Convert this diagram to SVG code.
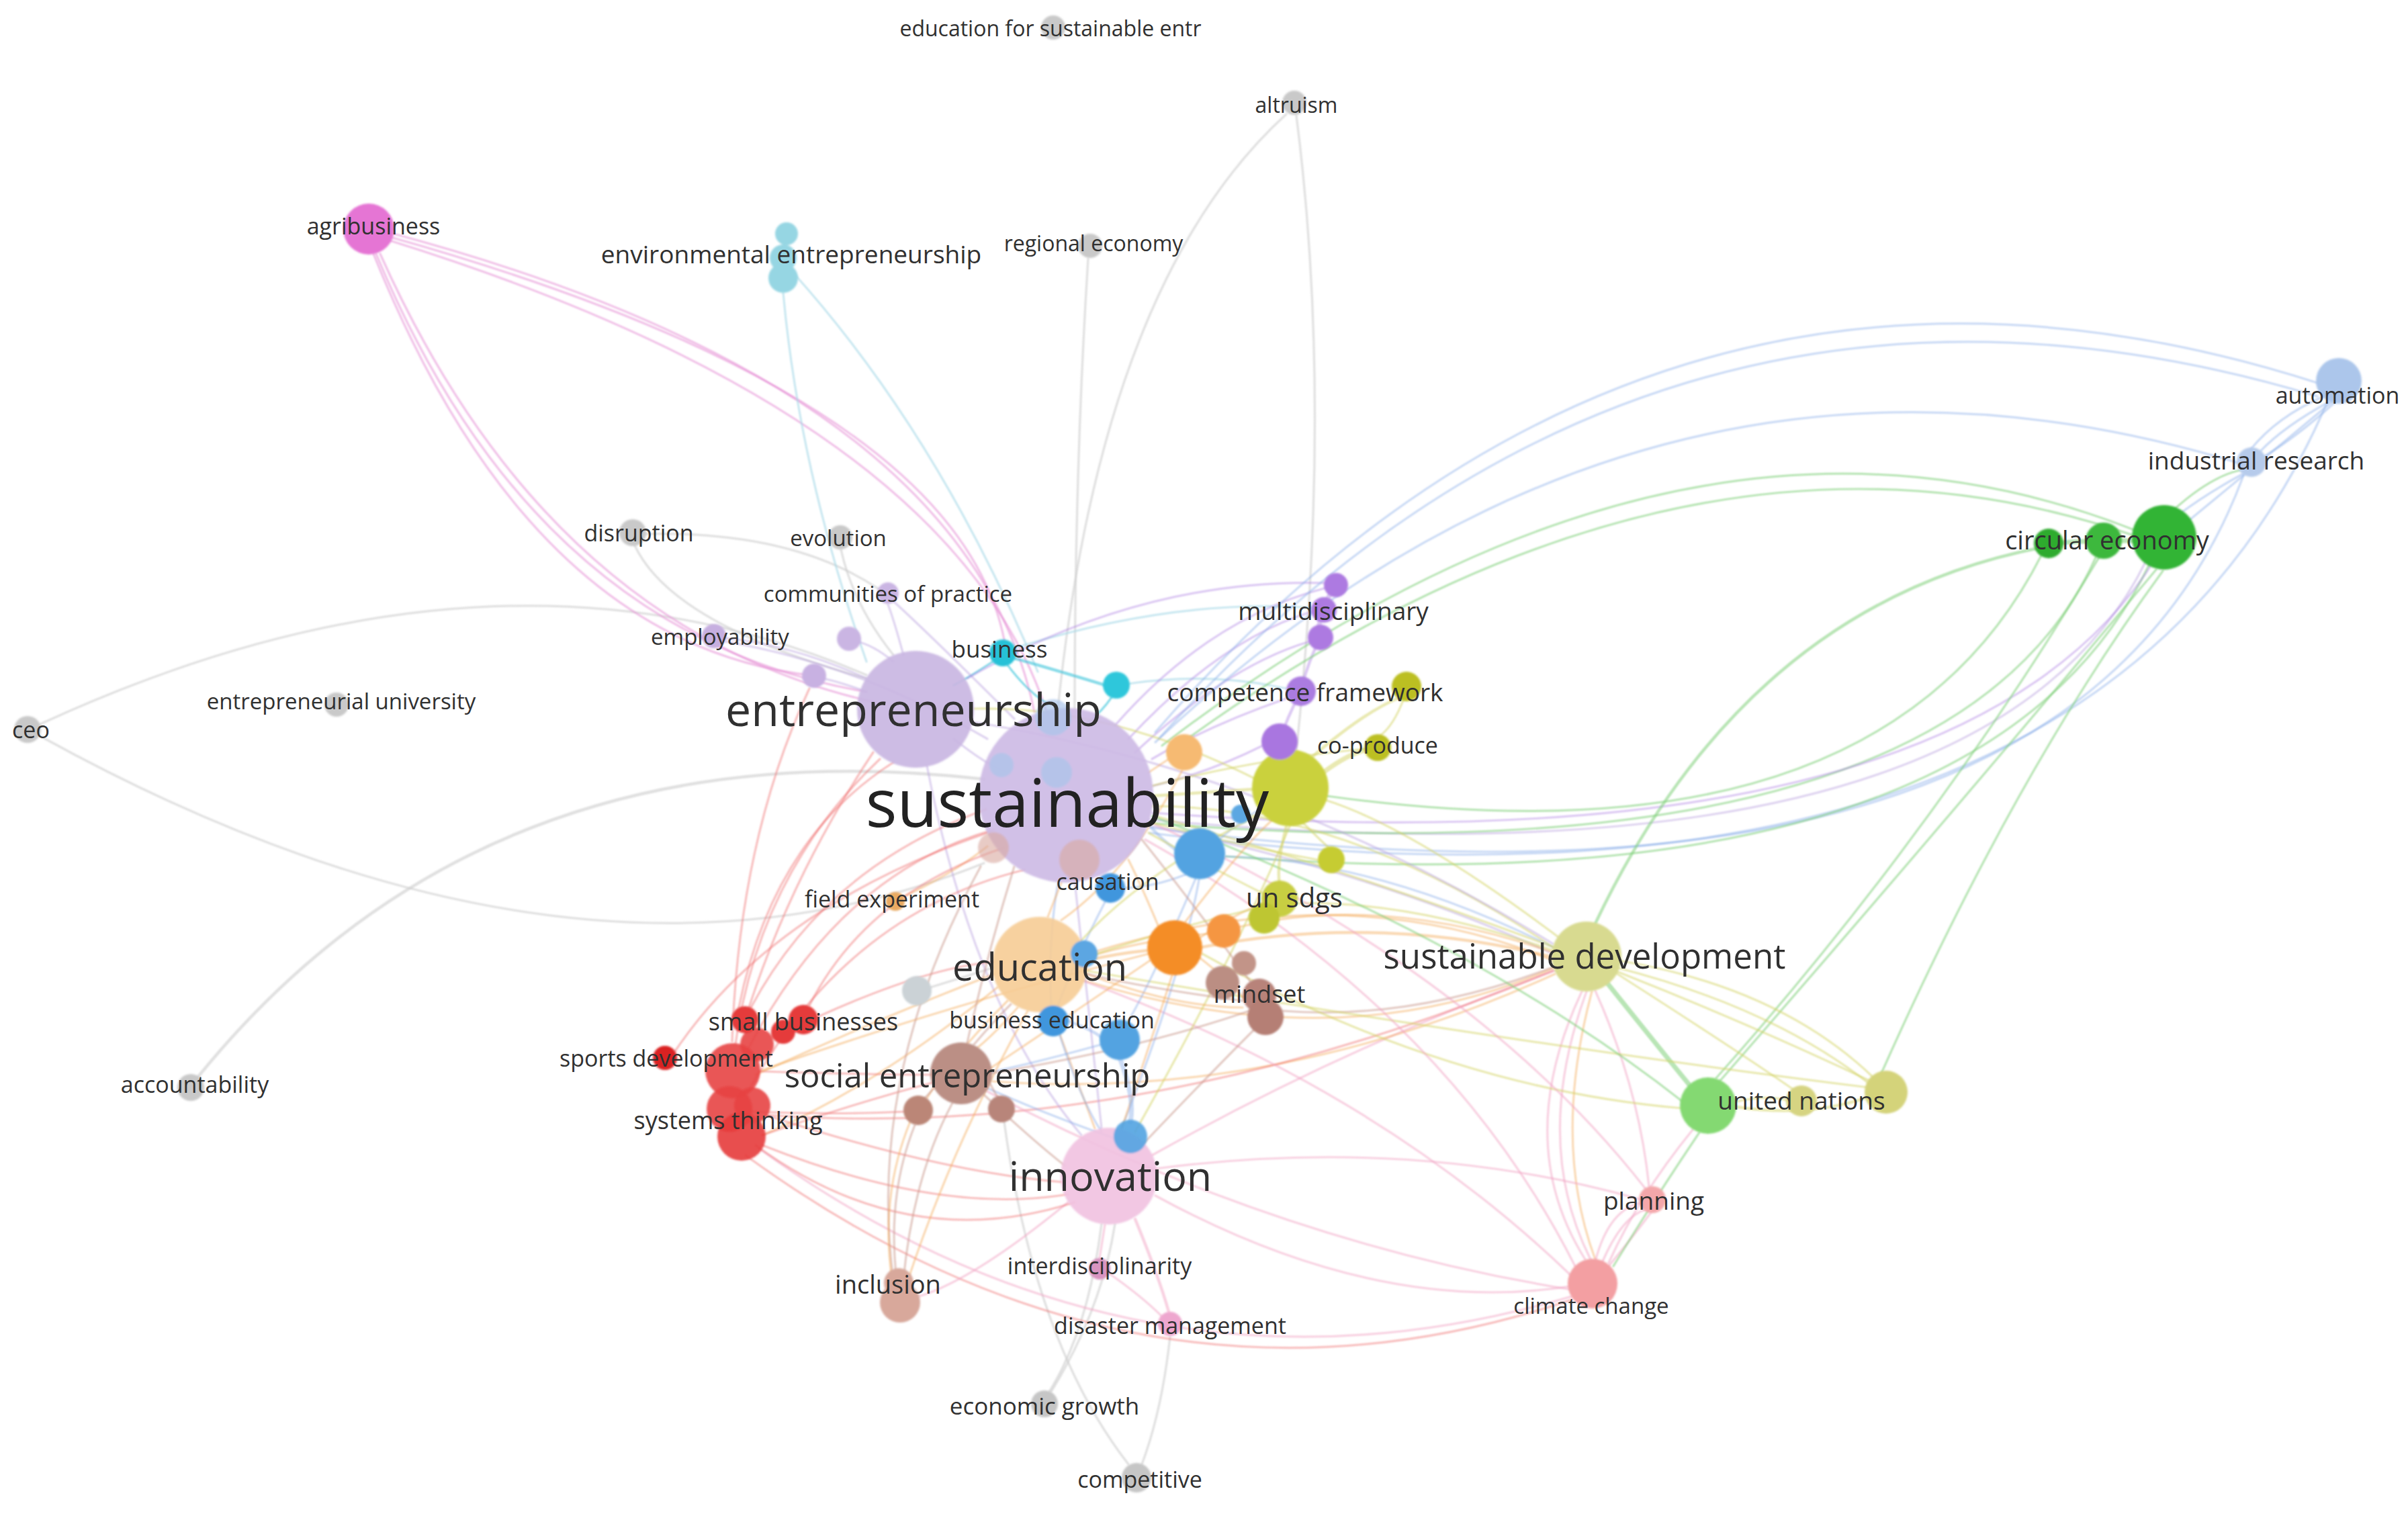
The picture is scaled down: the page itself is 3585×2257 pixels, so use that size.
<svg xmlns="http://www.w3.org/2000/svg" width="3585" height="2257" viewBox="0 0 3585 2257">
<defs>
<filter id="soft" x="-5%" y="-5%" width="110%" height="110%"><feGaussianBlur stdDeviation="1.8"/></filter>
<filter id="softe" x="-5%" y="-5%" width="110%" height="110%"><feGaussianBlur stdDeviation="1"/></filter>
</defs>
<style>
.e path{fill:none;stroke-linecap:round;stroke-width:3.2}
.pu{stroke:#b9a0dd;stroke-opacity:.45}
.vp{stroke:#a878e0;stroke-opacity:.4}
.pk{stroke:#e690d6;stroke-opacity:.55}
.pi{stroke:#f2a4c4;stroke-opacity:.5}
.cy{stroke:#3cc4da;stroke-opacity:.6}
.lc{stroke:#a6d8e8;stroke-opacity:.6}
.gr{stroke:#cccccc;stroke-opacity:.6}
.rd{stroke:#ee6a6a;stroke-opacity:.42}
.or{stroke:#f5ab5a;stroke-opacity:.45}
.ye{stroke:#d4d466;stroke-opacity:.5}
.gn{stroke:#7fcf7a;stroke-opacity:.55}
.bl{stroke:#8cb0e8;stroke-opacity:.45}
.br{stroke:#c99a8e;stroke-opacity:.5}
.w4{stroke-width:4.5 !important}
.w6{stroke-width:7 !important}
.n circle{stroke:none}
.lbl{font-family:"Open Sans","DejaVu Sans",sans-serif;fill:#303030;text-anchor:middle;dominant-baseline:central}
</style>
<rect width="3585" height="2257" fill="#ffffff"/>
<g id="connectors" class="e" filter="url(#softe)">
<path class="gr" d="M60,1078 Q735,767 1290,1005"/>
<path class="gr" d="M60,1096 Q850,1532 1465,1285"/>
<path class="gr w4" d="M295,1603 Q723,1075 1465,1160"/>
<path class="gr" d="M1915,170 Q1640,420 1575,1055"/>
<path class="gr" d="M1930,172 Q1985,600 1930,1118"/>
<path class="gr" d="M1620,385 Q1600,700 1600,1055"/>
<path class="gr" d="M945,812 Q1000,930 1290,1010"/>
<path class="gr" d="M960,795 Q1180,790 1310,878"/>
<path class="gr" d="M1252,818 Q1270,900 1330,975"/>
<path class="gr" d="M1640,1822 Q1620,1980 1562,2072"/>
<path class="gr" d="M1495,1670 Q1540,2000 1680,2180"/>
<path class="gr" d="M1742,1990 Q1730,2100 1700,2180"/>
<path class="gr" d="M1565,2072 Q1640,1950 1660,1822"/>
<path class="gr" d="M1385,1470 Q1450,1450 1480,1440"/>
<path class="pk" d="M575,345 Q1440,575 1540,1060"/>
<path class="pk" d="M578,352 Q1460,600 1500,985"/>
<path class="pk" d="M580,358 Q1420,620 1560,1065"/>
<path class="pk" d="M560,378 Q795,945 1290,1030"/>
<path class="pk" d="M566,378 Q815,935 1300,1045"/>
<path class="pk" d="M556,378 Q790,960 1212,1006"/>
<path class="lc" d="M1180,405 Q1400,650 1545,1000"/>
<path class="lc" d="M1166,436 Q1190,700 1290,985"/>
<path class="cy w4" d="M1510,980 Q1580,1000 1645,1020"/>
<path class="cy" d="M1500,990 Q1530,1030 1560,1048"/>
<path class="cy" d="M1478,985 Q1440,1010 1420,1020"/>
<path class="cy" d="M1655,1038 Q1640,1060 1620,1075"/>
<path class="lc" d="M1680,1018 Q1800,1000 1915,1025"/>
<path class="lc" d="M1510,965 Q1750,890 1955,905"/>
<path class="pu" d="M1420,1100 Q1470,1140 1500,1150"/>
<path class="pu" d="M1330,985 Q1300,960 1275,955"/>
<path class="pu" d="M1290,1030 Q1250,1015 1225,1010"/>
<path class="pu" d="M1290,1010 Q1180,960 1080,950"/>
<path class="pu" d="M1470,1100 Q1280,990 1080,955"/>
<path class="pu" d="M1345,975 Q1330,920 1322,900"/>
<path class="pu" d="M1510,1070 Q1390,950 1330,895"/>
<path class="vp" d="M1660,1080 Q1800,920 1975,875"/>
<path class="vp" d="M1680,1100 Q1820,950 1955,910"/>
<path class="vp" d="M1690,1120 Q1830,990 1950,955"/>
<path class="vp w6" d="M1989,871 Q1975,890 1971,908"/>
<path class="vp w6" d="M1971,908 Q1960,930 1966,949"/>
<path class="vp w4" d="M1966,949 Q1945,990 1937,1029"/>
<path class="vp w4" d="M1937,1029 Q1915,1070 1905,1104"/>
<path class="vp" d="M1915,1040 Q1800,1080 1715,1130"/>
<path class="vp" d="M1880,1110 Q1800,1150 1717,1170"/>
<path class="vp" d="M1440,1010 Q1700,860 1975,868"/>
<path class="bl" d="M1720,1090 Q2450,250 3450,570"/>
<path class="bl" d="M1725,1100 Q2450,290 3450,590"/>
<path class="bl" d="M1720,1105 Q2450,420 3335,690"/>
<path class="gn" d="M1730,1110 Q2500,520 3180,790"/>
<path class="gn" d="M1740,1120 Q2500,560 3185,800"/>
<path class="pu" d="M1710,1220 Q2950,1335 3195,835"/>
<path class="gn" d="M1710,1225 Q2900,1320 3120,830"/>
<path class="bl" d="M1712,1232 Q3080,1410 3340,708"/>
<path class="bl" d="M1712,1240 Q3113,1420 3465,598"/>
<path class="gn" d="M1825,1275 Q2950,1360 3200,840"/>
<path class="gn" d="M1975,1185 Q2800,1300 3040,825"/>
<path class="vp" d="M1715,1210 Q2920,1300 3210,830"/>
<path class="bl" d="M3468,598 Q3400,635 3365,672"/>
<path class="bl" d="M3475,600 Q3420,650 3370,680"/>
<path class="bl" d="M3460,590 Q3390,620 3350,670"/>
<path class="bl" d="M3340,705 Q3285,735 3245,765"/>
<path class="bl" d="M3472,598 Q3350,700 3255,778"/>
<path class="gn w6" d="M3200,805 Q3160,805 3132,805"/>
<path class="gn w6" d="M3132,805 Q3090,806 3050,809"/>
<path class="gn" d="M3235,760 Q3290,710 3335,700"/>
<path class="gn w4" d="M2375,1375 Q2600,900 3040,815"/>
<path class="gn w6" d="M2390,1460 Q2470,1560 2515,1615"/>
<path class="gn" d="M2560,1610 Q2900,1220 3210,848"/>
<path class="gn" d="M2555,1605 Q2880,1240 3125,830"/>
<path class="gn" d="M2800,1600 Q3000,1150 3220,850"/>
<path class="ye" d="M2410,1430 Q2650,1470 2790,1605"/>
<path class="ye" d="M2405,1440 Q2640,1500 2785,1615"/>
<path class="ye" d="M2400,1445 Q2580,1560 2670,1622"/>
<path class="ye w4" d="M2585,1648 Q2700,1665 2790,1630"/>
<path class="ye" d="M2585,1640 Q2630,1630 2660,1638"/>
<path class="ye" d="M2320,1395 Q2100,1230 1970,1190"/>
<path class="ye" d="M2312,1410 Q2000,1200 1715,1200"/>
<path class="pu" d="M2312,1420 Q2050,1300 1716,1230"/>
<path class="or w4" d="M2312,1425 Q2050,1360 1790,1410"/>
<path class="or" d="M2312,1418 Q2060,1330 1845,1380"/>
<path class="or" d="M2312,1430 Q2000,1300 1620,1420"/>
<path class="or" d="M2315,1440 Q2000,1580 1615,1460"/>
<path class="br" d="M2312,1440 Q2100,1520 1910,1505"/>
<path class="ye" d="M2312,1415 Q2100,1340 1930,1345"/>
<path class="pi" d="M2315,1445 Q2000,1560 1715,1720"/>
<path class="or" d="M2315,1450 Q1900,1640 1478,1610"/>
<path class="pi" d="M2355,1476 Q2250,1700 2360,1875"/>
<path class="pi" d="M2362,1476 Q2280,1700 2368,1875"/>
<path class="or" d="M2370,1476 Q2310,1700 2375,1875"/>
<path class="pi" d="M2375,1475 Q2440,1620 2455,1766"/>
<path class="rd" d="M2312,1445 Q1700,1700 1140,1660"/>
<path class="bl" d="M2312,1410 Q2050,1280 1825,1275"/>
<path class="pu" d="M2312,1405 Q1900,1150 1450,1075"/>
<path class="ye" d="M2505,1650 Q2150,1620 1790,1420"/>
<path class="ye" d="M2790,1612 Q2300,1380 1720,1215"/>
<path class="ye" d="M2790,1620 Q2300,1560 1615,1445"/>
<path class="gn" d="M2505,1640 Q2200,1400 1715,1215"/>
<path class="pi" d="M2385,1880 Q2415,1810 2452,1800"/>
<path class="pi" d="M2395,1885 Q2440,1830 2458,1805"/>
<path class="pi" d="M2375,1878 Q2395,1800 2445,1790"/>
<path class="pi" d="M2520,1682 Q2440,1780 2395,1880"/>
<path class="gn" d="M2530,1686 Q2460,1790 2402,1885"/>
<path class="pi" d="M2338,1915 Q2050,1960 1720,1780"/>
<path class="pi" d="M2340,1930 Q1700,2120 1130,1710"/>
<path class="rd" d="M2340,1935 Q1700,2150 1110,1720"/>
<path class="pi" d="M2345,1885 Q2150,1500 1705,1250"/>
<path class="pi" d="M2340,1900 Q2050,1620 1612,1460"/>
<path class="pi" d="M2440,1785 Q2100,1690 1720,1740"/>
<path class="pi" d="M2450,1770 Q2200,1450 1715,1225"/>
<path class="pi" d="M2340,1920 Q1900,1850 1470,1625"/>
<path class="pi" d="M1645,1823 Q1640,1855 1637,1873"/>
<path class="pi w4" d="M1690,1815 Q1725,1900 1740,1953"/>
<path class="pi" d="M1650,1895 Q1700,1930 1730,1960"/>
<path class="pi" d="M1590,1790 Q1450,1905 1368,1930"/>
<path class="pu" d="M1600,1312 Q1620,1500 1640,1680"/>
<path class="pu" d="M1380,1140 Q1450,1500 1610,1690"/>
<path class="or" d="M1565,1505 Q1600,1600 1630,1680"/>
<path class="br" d="M1465,1630 Q1540,1700 1585,1735"/>
<path class="ye" d="M1690,1685 Q1850,1400 1920,1230"/>
<path class="bl" d="M1670,1680 Q1760,1450 1785,1310"/>
<path class="or" d="M1670,1680 Q1720,1530 1745,1452"/>
<path class="br" d="M1700,1705 Q1800,1600 1870,1530"/>
<path class="bl w6" d="M1667,1575 Q1690,1635 1683,1670"/>
<path class="bl w4" d="M1590,1520 Q1630,1535 1640,1545"/>
<path class="bl" d="M1578,1542 Q1610,1640 1640,1685"/>
<path class="bl w4" d="M1750,1265 Q1730,1250 1712,1230"/>
<path class="bl" d="M1815,1250 Q1850,1220 1875,1205"/>
<path class="bl" d="M1765,1302 Q1720,1320 1675,1322"/>
<path class="bl" d="M1645,1343 Q1600,1430 1575,1497"/>
<path class="bl" d="M1780,1308 Q1720,1450 1680,1520"/>
<path class="bl" d="M1640,1555 Q1550,1580 1476,1596"/>
<path class="bl" d="M1565,1498 Q1560,1400 1575,1315"/>
<path class="bl" d="M1660,1695 Q1560,1660 1470,1620"/>
<path class="or" d="M1725,1380 Q1700,1320 1680,1280"/>
<path class="or w4" d="M1708,1415 Q1660,1420 1618,1430"/>
<path class="or" d="M1800,1390 Q1700,1400 1618,1425"/>
<path class="or" d="M1788,1395 Q1840,1360 1880,1345"/>
<path class="or" d="M1765,1372 Q1850,1260 1895,1220"/>
<path class="or" d="M1740,1130 Q1725,1140 1710,1150"/>
<path class="or" d="M1760,1147 Q1680,1300 1580,1370"/>
<path class="or" d="M1560,1365 Q1570,1340 1580,1314"/>
<path class="or" d="M1345,1335 Q1420,1300 1470,1260"/>
<path class="or" d="M1515,1500 Q1480,1540 1455,1560"/>
<path class="or" d="M1480,1450 Q1300,1520 1125,1600"/>
<path class="or" d="M1485,1470 Q1300,1620 1135,1690"/>
<path class="or" d="M1710,1420 Q1400,1500 1130,1595"/>
<path class="or" d="M1712,1430 Q1580,1520 1475,1590"/>
<path class="or" d="M1785,1425 Q1830,1460 1855,1490"/>
<path class="or" d="M1618,1450 Q1750,1500 1850,1500"/>
<path class="or" d="M1500,1490 Q1420,1570 1380,1635"/>
<path class="rd" d="M1112,1565 Q1250,1300 1480,1235"/>
<path class="rd" d="M1118,1500 Q1230,1290 1468,1205"/>
<path class="rd" d="M1205,1497 Q1290,1330 1495,1262"/>
<path class="rd" d="M1112,1628 Q1260,1360 1525,1295"/>
<path class="rd" d="M1100,1500 Q1150,1250 1330,1135"/>
<path class="rd" d="M1095,1555 Q1130,1300 1310,1130"/>
<path class="rd" d="M1090,1550 Q1100,1250 1205,1025"/>
<path class="rd" d="M1135,1690 Q1280,1640 1388,1612"/>
<path class="rd" d="M1140,1660 Q1400,1745 1583,1760"/>
<path class="rd" d="M1135,1705 Q1400,1810 1590,1778"/>
<path class="rd" d="M1215,1515 Q1380,1440 1480,1432"/>
<path class="rd" d="M1130,1595 Q1300,1600 1388,1600"/>
<path class="rd" d="M1118,1655 Q1250,1660 1347,1655"/>
<path class="rd" d="M1125,1705 Q1350,1870 1600,1790"/>
<path class="rd" d="M1005,1565 Q1150,1350 1470,1240"/>
<path class="rd" d="M1115,1500 Q1180,1300 1300,1120"/>
<path class="br" d="M1335,1905 Q1320,1780 1362,1675"/>
<path class="br" d="M1345,1905 Q1360,1750 1418,1642"/>
<path class="or" d="M1352,1905 Q1420,1700 1530,1505"/>
<path class="br" d="M1330,1905 Q1290,1600 1460,1290"/>
<path class="or" d="M1328,1905 Q1310,1780 1355,1670"/>
<path class="br" d="M1440,1552 Q1470,1420 1510,1290"/>
<path class="br" d="M1450,1555 Q1480,1520 1505,1495"/>
<path class="br" d="M1862,1462 Q1780,1350 1700,1250"/>
<path class="br" d="M1850,1490 Q1700,1470 1618,1450"/>
<path class="br" d="M1477,1598 Q1700,1560 1860,1505"/>
<path class="br" d="M1475,1615 Q1485,1635 1491,1640"/>
<path class="br" d="M1390,1620 Q1378,1635 1370,1640"/>
<path class="ye w6" d="M1970,1150 Q2010,1120 2040,1115"/>
<path class="ye w4" d="M1950,1130 Q2030,1060 2085,1038"/>
<path class="ye" d="M2090,1040 Q2075,1080 2055,1095"/>
<path class="ye w4" d="M1915,1230 Q1900,1290 1905,1315"/>
<path class="ye" d="M1940,1225 Q1965,1250 1978,1262"/>
<path class="ye w4" d="M1865,1175 Q1790,1180 1715,1185"/>
<path class="ye" d="M1880,1330 Q1800,1290 1710,1240"/>
<path class="ye" d="M1880,1350 Q1750,1380 1618,1425"/>
<path class="ye" d="M1962,1280 Q1850,1260 1715,1225"/>
<path class="ye" d="M1880,1210 Q1700,1300 1610,1400"/>
<path class="ye" d="M1870,1160 Q1650,1050 1450,1055"/>
<path class="ye" d="M2032,1115 Q1870,1130 1715,1170"/>
</g>
<g id="nodes" class="n" filter="url(#soft)">
<g id="node-sustainability"><circle cx="1587" cy="1184" r="130" fill="#cdbbe5" fill-opacity=".92"/></g>
<g id="node-entrepreneurship"><circle cx="1363" cy="1056" r="87" fill="#c9b6e2" fill-opacity=".92"/></g>
<g id="node-education"><circle cx="1548" cy="1436" r="71" fill="#f6cc95" fill-opacity=".9"/></g>
<g id="node-innovation"><circle cx="1651" cy="1751" r="72" fill="#f1c2e1" fill-opacity=".92"/></g>
<g id="node-social-entrepreneurship"><circle cx="1431" cy="1598" r="46" fill="#bb8f85"/></g>
<g id="node-sustainable-development"><circle cx="2362" cy="1424" r="52" fill="#d8da90"/></g>
<g id="node-sustainability-inner">
<circle cx="1568" cy="1068" r="27" fill="#a9c5ea" fill-opacity=".7"/>
<circle cx="1491" cy="1139" r="18" fill="#a9c5ea" fill-opacity=".7"/>
<circle cx="1573" cy="1150" r="23" fill="#a9c5ea" fill-opacity=".7"/>
<circle cx="1479" cy="1262" r="23" fill="#d8a89e" fill-opacity=".6"/>
<circle cx="1607" cy="1280" r="30" fill="#d8a89e" fill-opacity=".6"/>
</g>
<g id="node-yellow-hub"><circle cx="1921" cy="1173" r="57" fill="#cad13e"/></g>
<g id="node-business"><circle cx="1493" cy="972" r="20" fill="#26c1d7"/></g>
<g id="node-cyan-2"><circle cx="1662" cy="1020" r="20" fill="#2fc7db"/></g>
<g id="node-environmental-entrepreneurship">
<circle cx="1171" cy="348" r="17" fill="#96d6e3"/>
<circle cx="1166" cy="384" r="20" fill="#96d6e3"/>
<circle cx="1166" cy="414" r="22" fill="#96d6e3"/>
</g>
<g id="node-agribusiness"><circle cx="549" cy="341" r="38" fill="#e574d4"/></g>
<g id="node-employability"><circle cx="1063" cy="947" r="18" fill="#c6afe0"/></g>
<g id="node-purple-1"><circle cx="1264" cy="951" r="18" fill="#cab5e3"/></g>
<g id="node-purple-2"><circle cx="1212" cy="1006" r="18" fill="#c8b1e2"/></g>
<g id="node-communities-of-practice"><circle cx="1322" cy="883" r="16" fill="#cab5e3"/></g>
<g id="node-multidisciplinary">
<circle cx="1989" cy="871" r="18" fill="#ad7ae1"/>
<circle cx="1971" cy="908" r="19" fill="#ad7ae1"/>
<circle cx="1966" cy="949" r="19" fill="#ad7ae1"/>
</g>
<g id="node-competence-framework"><circle cx="1937" cy="1029" r="22" fill="#ab7ce0"/></g>
<g id="node-competence-framework-y"><circle cx="2094" cy="1022" r="22" fill="#bcbf22"/></g>
<g id="node-purple-3"><circle cx="1905" cy="1104" r="27" fill="#a976e0"/></g>
<g id="node-co-produce"><circle cx="2051" cy="1113" r="20" fill="#bcbf22"/></g>
<g id="node-orange-light"><circle cx="1763" cy="1120" r="27" fill="#f6ba72"/></g>
<g id="node-blue-1"><circle cx="1786" cy="1271" r="38" fill="#52a3e1"/></g>
<g id="node-blue-small"><circle cx="1847" cy="1212" r="14" fill="#5ca7e2"/></g>
<g id="node-yellow-small"><circle cx="1982" cy="1280" r="20" fill="#c6cc32"/></g>
<g id="node-un-sdgs">
<circle cx="1905" cy="1338" r="27" fill="#c8ce42"/>
<circle cx="1882" cy="1367" r="23" fill="#bec630"/>
</g>
<g id="node-causation"><circle cx="1653" cy="1322" r="22" fill="#4096dd"/></g>
<g id="node-blue-2"><circle cx="1614" cy="1420" r="20" fill="#5ba6e2"/></g>
<g id="node-orange-big"><circle cx="1749" cy="1411" r="41" fill="#f48d28"/></g>
<g id="node-orange-3"><circle cx="1822" cy="1386" r="25" fill="#f59642"/></g>
<g id="node-brown-3"><circle cx="1852" cy="1434" r="18" fill="#c29488"/></g>
<g id="node-brown-4"><circle cx="1820" cy="1463" r="25" fill="#bb8e83"/></g>
<g id="node-mindset">
<circle cx="1875" cy="1482" r="25" fill="#b8837a"/>
<circle cx="1884" cy="1514" r="27" fill="#b57f74"/>
</g>
<g id="node-field-experiment"><circle cx="1333" cy="1342" r="14" fill="#e9aa62"/></g>
<g id="node-gray-center"><circle cx="1365" cy="1475" r="22" fill="#cbd2d6"/></g>
<g id="node-business-education"><circle cx="1568" cy="1520" r="23" fill="#4096dd"/></g>
<g id="node-blue-3"><circle cx="1667" cy="1548" r="30" fill="#52a3e1"/></g>
<g id="node-blue-4"><circle cx="1683" cy="1692" r="25" fill="#52a3e1" fill-opacity=".9"/></g>
<g id="node-brown-1"><circle cx="1367" cy="1653" r="22" fill="#bb8677"/></g>
<g id="node-brown-2"><circle cx="1491" cy="1651" r="20" fill="#b8857a"/></g>
<g id="node-red-cluster">
<circle cx="1091" cy="1594" r="41" fill="#e74242" fill-opacity=".9"/>
<circle cx="1086" cy="1651" r="34" fill="#e74242" fill-opacity=".9"/>
<circle cx="1104" cy="1692" r="36" fill="#e63a3a" fill-opacity=".9"/>
<circle cx="1120" cy="1646" r="27" fill="#e74242" fill-opacity=".9"/>
<circle cx="1127" cy="1555" r="25" fill="#e74242" fill-opacity=".9"/>
</g>
<g id="node-small-businesses">
<circle cx="1109" cy="1518" r="20" fill="#e53a3a"/>
<circle cx="1196" cy="1518" r="22" fill="#e53a3a"/>
<circle cx="1166" cy="1536" r="18" fill="#e53a3a"/>
</g>
<g id="node-sports-development"><circle cx="990" cy="1575" r="18" fill="#da2424"/></g>
<g id="node-inclusion">
<circle cx="1338" cy="1910" r="22" fill="#d8a89b"/>
<circle cx="1340" cy="1939" r="30" fill="#d8a89b"/>
</g>
<g id="node-interdisciplinarity"><circle cx="1637" cy="1889" r="16" fill="#d894c0"/></g>
<g id="node-disaster-management"><circle cx="1742" cy="1971" r="18" fill="#eea7cf"/></g>
<g id="node-economic-growth"><circle cx="1555" cy="2090" r="20" fill="#c6c6c6"/></g>
<g id="node-competitive"><circle cx="1692" cy="2200" r="22" fill="#c6c6c6"/></g>
<g id="node-united-nations">
<circle cx="2543" cy="1646" r="42" fill="#84d972"/>
<circle cx="2682" cy="1639" r="23" fill="#d6d482"/>
<circle cx="2808" cy="1626" r="32" fill="#d4d37a"/>
</g>
<g id="node-planning"><circle cx="2460" cy="1786" r="20" fill="#f4a7aa"/></g>
<g id="node-climate-change"><circle cx="2371" cy="1911" r="37" fill="#f39fa2"/></g>
<g id="node-circular-economy">
<circle cx="3050" cy="809" r="22" fill="#2fab2f"/>
<circle cx="3132" cy="805" r="27" fill="#3eb83e"/>
<circle cx="3222" cy="800" r="48" fill="#33b435"/>
</g>
<g id="node-industrial-research"><circle cx="3352" cy="688" r="22" fill="#b6cbeb"/></g>
<g id="node-automation"><circle cx="3482" cy="567" r="34" fill="#acc6eb"/></g>
<g id="node-education-for-sustainable-entr"><circle cx="1568" cy="41" r="18" fill="#c9c9c9"/></g>
<g id="node-altruism"><circle cx="1927" cy="153" r="18" fill="#c9c9c9"/></g>
<g id="node-regional-economy"><circle cx="1623" cy="366" r="18" fill="#c9c9c9"/></g>
<g id="node-disruption"><circle cx="942" cy="793" r="20" fill="#c9c9c9"/></g>
<g id="node-evolution"><circle cx="1251" cy="800" r="18" fill="#c9c9c9"/></g>
<g id="node-entrepreneurial-university"><circle cx="501" cy="1049" r="18" fill="#c9c9c9"/></g>
<g id="node-ceo"><circle cx="41" cy="1086" r="20" fill="#c9c9c9"/></g>
<g id="node-accountability"><circle cx="284" cy="1619" r="20" fill="#c9c9c9"/></g>
</g>
<g id="labels">
<text class="lbl" x="1564" y="41" font-size="32">education for sustainable entr</text>
<text class="lbl" x="1930" y="155" font-size="32">altruism</text>
<text class="lbl" x="556" y="336" font-size="34">agribusiness</text>
<text class="lbl" x="1178" y="377" font-size="37">environmental entrepreneurship</text>
<text class="lbl" x="1628" y="361" font-size="32">regional economy</text>
<text class="lbl" x="951" y="793" font-size="34">disruption</text>
<text class="lbl" x="1248" y="800" font-size="33">evolution</text>
<text class="lbl" x="1322" y="883" font-size="33">communities of practice</text>
<text class="lbl" x="1072" y="947" font-size="33">employability</text>
<text class="lbl" x="1488" y="965" font-size="35">business</text>
<text class="lbl" x="1360" y="1054" font-size="68">entrepreneurship</text>
<text class="lbl" x="1985" y="908" font-size="37">multidisciplinary</text>
<text class="lbl" x="1943" y="1029" font-size="37">competence framework</text>
<text class="lbl" x="2051" y="1109" font-size="34">co-produce</text>
<text class="lbl" x="46" y="1086" font-size="34">ceo</text>
<text class="lbl" x="508" y="1043" font-size="33">entrepreneurial university</text>
<text class="lbl" x="1589" y="1193" font-size="98" style="fill:#222">sustainability</text>
<text class="lbl" x="1649" y="1312" font-size="34">causation</text>
<text class="lbl" x="1328" y="1338" font-size="34">field experiment</text>
<text class="lbl" x="1927" y="1335" font-size="40">un sdgs</text>
<text class="lbl" x="1548" y="1438" font-size="56">education</text>
<text class="lbl" x="2359" y="1422" font-size="51">sustainable development</text>
<text class="lbl" x="1196" y="1520" font-size="36">small businesses</text>
<text class="lbl" x="1566" y="1518" font-size="34">business education</text>
<text class="lbl" x="1875" y="1479" font-size="36">mindset</text>
<text class="lbl" x="992" y="1575" font-size="34">sports development</text>
<text class="lbl" x="1440" y="1600" font-size="49">social entrepreneurship</text>
<text class="lbl" x="1084" y="1667" font-size="36">systems thinking</text>
<text class="lbl" x="2682" y="1637" font-size="37">united nations</text>
<text class="lbl" x="1653" y="1749" font-size="61">innovation</text>
<text class="lbl" x="290" y="1614" font-size="34">accountability</text>
<text class="lbl" x="2462" y="1786" font-size="37">planning</text>
<text class="lbl" x="1322" y="1911" font-size="38">inclusion</text>
<text class="lbl" x="1637" y="1884" font-size="34">interdisciplinarity</text>
<text class="lbl" x="2369" y="1943" font-size="33">climate change</text>
<text class="lbl" x="1742" y="1973" font-size="34">disaster management</text>
<text class="lbl" x="1555" y="2092" font-size="35">economic growth</text>
<text class="lbl" x="1697" y="2202" font-size="34">competitive</text>
<text class="lbl" x="3480" y="588" font-size="34">automation</text>
<text class="lbl" x="3359" y="684" font-size="37">industrial research</text>
<text class="lbl" x="3137" y="803" font-size="38">circular economy</text>
</g>
</svg>
